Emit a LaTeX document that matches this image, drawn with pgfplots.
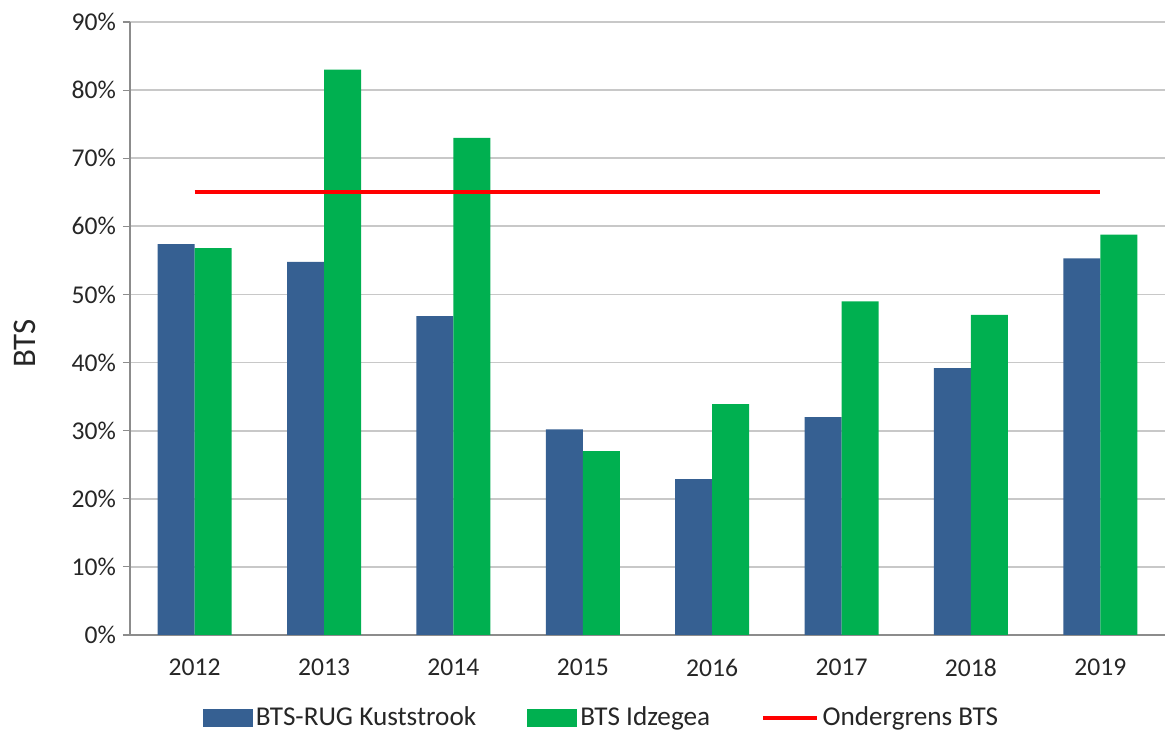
\documentclass[border=0pt]{standalone}
\usepackage{fontspec}
\setmainfont{Carlito}
\usepackage{pgfplots}
\pgfplotsset{compat=1.18}
\definecolor{cblue}{RGB}{54,96,146}
\definecolor{cgreen}{RGB}{0,176,80}
\definecolor{cgrid}{RGB}{200,200,200}
\definecolor{caxis}{RGB}{140,140,140}
\definecolor{ctext}{RGB}{38,38,38}
\begin{document}
\begin{tikzpicture}
\begin{axis}[
    at={(0,0)}, anchor=south west,
    scale only axis,
    width=517.5pt, height=306.5pt,
    xmin=-0.5, xmax=7.5,
    ymin=0, ymax=90,
    ytick={0,10,...,90},
    yticklabel={\pgfmathprintnumber{\tick}\%},
    xtick={0,...,7},
    xticklabels={2012,2013,2014,2015,2016,2017,2018,2019},
    x tick style={draw=none},
    extra x ticks={-0.5,0.5,1.5,2.5,3.5,4.5,5.5,6.5,7.5},
    extra x tick labels={},
    extra x tick style={grid=none, major tick length=3.5pt, tick style={draw=caxis, line width=0.6pt}},
    tick align=outside,
    major tick length=3.5pt,
    y tick style={draw=caxis, line width=0.6pt},
    axis x line*=bottom, axis y line*=left,
    axis line style={draw=caxis, line width=0.7pt, -},
    ymajorgrids,
    grid style={draw=cgrid, line width=0.9pt},
    /pgf/number format/assume math mode=true,
    tick label style={font=\fontsize{12.8}{15}\selectfont, text=ctext},
    xticklabel style={yshift=-5pt},
    ylabel={BTS},
    ylabel style={at={(axis description cs:-0.102,0.476)}, anchor=center, font=\fontsize{16.5}{19}\selectfont, text=ctext},
    legend style={at={(0.456,-0.135)}, anchor=center, draw=none, fill=none,
        legend columns=3, font=\fontsize{13.6}{16}\selectfont, text=ctext,
        nodes={inner sep=1.5pt},
        /tikz/every even column/.append style={column sep=24pt}},
]
\addplot[ybar, bar width=18.5pt, bar shift=-9.25pt, fill=cblue, draw=none,
    legend image code/.code={\fill[cblue] (0pt,-4.5pt) rectangle (25pt,4.5pt);}]
    coordinates {(0,57.4) (1,54.8) (2,46.8) (3,30.2) (4,22.9) (5,32.0) (6,39.2) (7,55.3)};
\addlegendentry{BTS-RUG Kuststrook}
\addplot[ybar, bar width=18.5pt, bar shift=9.25pt, fill=cgreen, draw=none,
    legend image code/.code={\fill[cgreen] (0pt,-4.5pt) rectangle (25pt,4.5pt);}]
    coordinates {(0,56.8) (1,83.0) (2,73.0) (3,27.0) (4,33.9) (5,49.0) (6,47.0) (7,58.8)};
\addlegendentry{BTS Idzegea}
\addplot[red, line width=2.2pt, sharp plot, mark=none,
    legend image code/.code={\draw[red, line width=2.2pt] (0pt,0pt) -- (27pt,0pt);}]
    coordinates {(0,65) (7,65)};
\addlegendentry{Ondergrens BTS}
\end{axis}
\pgfresetboundingbox
\path (-65pt,-48pt) rectangle (518pt,317.5pt);
\end{tikzpicture}
\end{document}
